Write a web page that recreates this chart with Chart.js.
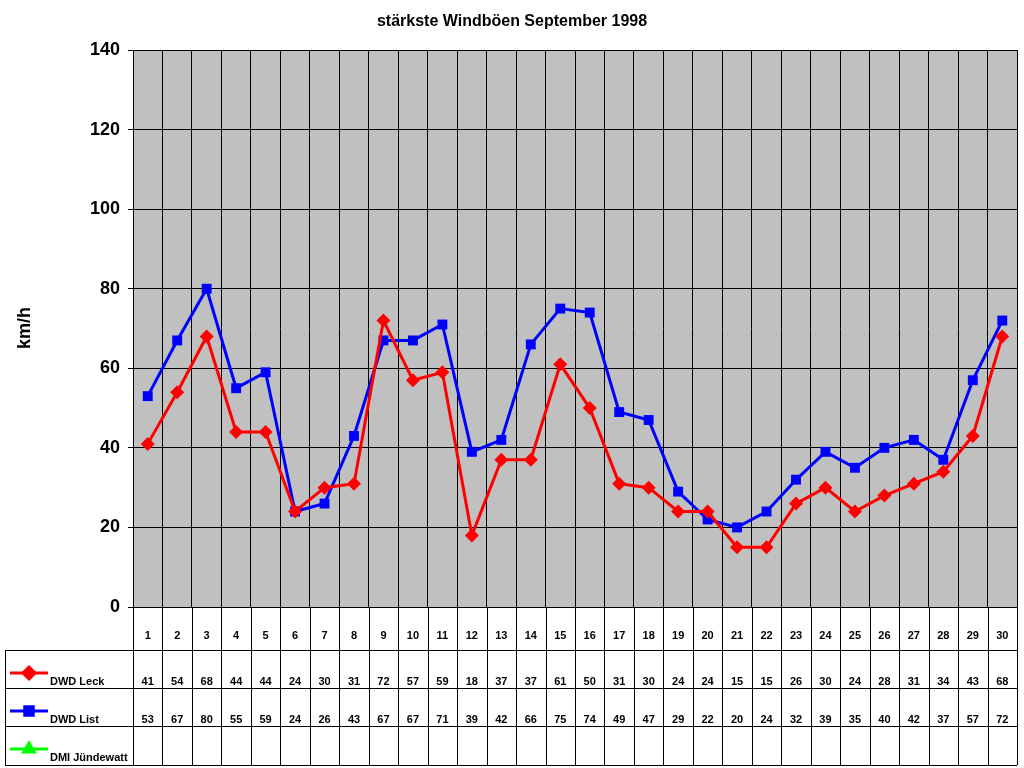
<!DOCTYPE html>
<html>
<head>
<meta charset="utf-8">
<script src="https://cdn.jsdelivr.net/npm/chart.js@4"></script>
<style>
  html, body { margin: 0; padding: 0; background: #fff; }
  #wrap { width: 1024px; height: 768px; }
</style>
</head>
<body>
<div id="wrap"><canvas id="myChart" width="1024" height="768"></canvas></div>
<script>
var days = [];
for (var d = 1; d <= 30; d++) days.push(String(d));
var leck = [41, 54, 68, 44, 44, 24, 30, 31, 72, 57, 59, 18, 37, 37, 61, 50, 31, 30, 24, 24, 15, 15, 26, 30, 24, 28, 31, 34, 43, 68];
var list = [53, 67, 80, 55, 59, 24, 26, 43, 67, 67, 71, 39, 42, 66, 75, 74, 49, 47, 29, 22, 20, 24, 32, 39, 35, 40, 42, 37, 57, 72];
var juendewatt = [];
var seriesNames = ["DWD Leck", "DWD List", "DMI Jündewatt"];
var seriesColors = ["#ff0000", "#0000ff", "#00ff00"];
var seriesMarkers = ["rectRot", "rect", "triangle"];

var tablePlugin = {
  id: "tablePlugin",
  afterDraw: function (chart) {
    var ctx = chart.ctx;
    var area = chart.chartArea;
    var x = chart.scales.x;
    var rows = [607, 650, 688, 726, 765];
    var step = (area.right - area.left) / days.length;
    ctx.save();
    ctx.strokeStyle = "#000";
    ctx.lineWidth = 1;
    ctx.beginPath();
    for (var i = 0; i <= days.length; i++) {
      var px = Math.round(area.left + i * step) + 0.5;
      ctx.moveTo(px, rows[0]);
      ctx.lineTo(px, rows[4]);
    }
    ctx.moveTo(5.5, rows[1]);
    ctx.lineTo(5.5, rows[4]);
    for (var r = 1; r < rows.length; r++) {
      ctx.moveTo(5, rows[r] + 0.5);
      ctx.lineTo(area.right, rows[r] + 0.5);
    }
    ctx.stroke();

    ctx.fillStyle = "#000";
    ctx.font = "bold 11px Arial, 'Liberation Sans', sans-serif";
    ctx.textAlign = "center";
    ctx.textBaseline = "alphabetic";
    var data = [leck, list, juendewatt];
    for (var j = 0; j < days.length; j++) {
      var cx = x.getPixelForValue(j);
      ctx.fillText(days[j], cx, 639);
      for (var s = 0; s < data.length; s++) {
        if (data[s][j] !== undefined) ctx.fillText(String(data[s][j]), cx, rows[s + 1] + 35);
      }
    }
    // legend keys
    ctx.textAlign = "left";
    for (var k = 0; k < seriesNames.length; k++) {
      var ly = rows[k + 1] + 23;
      ctx.strokeStyle = seriesColors[k];
      ctx.lineWidth = 3;
      ctx.beginPath();
      ctx.moveTo(10, ly);
      ctx.lineTo(48, ly);
      ctx.stroke();
      Chart.helpers.drawPoint(ctx, { pointStyle: seriesMarkers[k], radius: 6, borderWidth: 1 }, 29, ly);
      ctx.fillStyle = seriesColors[k];
      Chart.helpers.drawPoint(ctx, { pointStyle: seriesMarkers[k], radius: 6, borderWidth: 0 }, 29, ly);
      ctx.fill();
      ctx.fillStyle = "#000";
      ctx.fillText(seriesNames[k], 50, rows[k + 1] + 35);
    }
    // title and axis title
    ctx.textAlign = "center";
    ctx.font = "bold 16px Arial, 'Liberation Sans', sans-serif";
    ctx.fillText("stärkste Windböen September 1998", 512, 26);
    ctx.translate(30, 328);
    ctx.rotate(-Math.PI / 2);
    ctx.font = "bold 18px Arial, 'Liberation Sans', sans-serif";
    ctx.fillText("km/h", 0, 0);
    ctx.restore();
  }
};

var bgPlugin = {
  id: "bgPlugin",
  beforeDraw: function (chart) {
    var ctx = chart.ctx, a = chart.chartArea;
    ctx.save();
    ctx.fillStyle = "#fff";
    ctx.fillRect(0, 0, chart.width, chart.height);
    ctx.fillStyle = "#c0c0c0";
    ctx.fillRect(a.left, a.top, a.right - a.left, a.bottom - a.top);
    ctx.restore();
  }
};

new Chart(document.getElementById("myChart"), {
  type: "line",
  data: {
    labels: days,
    datasets: [
      { label: seriesNames[0], data: leck, borderColor: seriesColors[0], backgroundColor: seriesColors[0], borderWidth: 3, pointStyle: "rectRot", pointRadius: 7, pointBorderWidth: 0 },
      { label: seriesNames[1], data: list, borderColor: seriesColors[1], backgroundColor: seriesColors[1], borderWidth: 3, pointStyle: "rect", pointRadius: 7, pointBorderWidth: 0 },
      { label: seriesNames[2], data: juendewatt, borderColor: seriesColors[2], backgroundColor: seriesColors[2], borderWidth: 3, pointStyle: "triangle", pointRadius: 6 }
    ]
  },
  options: {
    responsive: false,
    animation: false,
    layout: { padding: { left: 0, right: 5, top: 50, bottom: 161 } },
    plugins: { legend: { display: false }, title: { display: false }, tooltip: { enabled: false } },
    scales: {
      x: {
        offset: true,
        grid: { offset: true, color: "#000", drawTicks: false },
        border: { color: "#000" },
        ticks: { display: false },
        afterFit: function (s) { s.height = 0; }
      },
      y: {
        min: 0, max: 140,
        ticks: { stepSize: 20, color: "#000", font: { family: "Arial, 'Liberation Sans', sans-serif", size: 18, weight: "bold" }, padding: 8 },
        grid: { color: "#000", drawTicks: true, tickLength: 5 },
        border: { color: "#000" },
        afterFit: function (s) { s.width = 133; }
      }
    }
  },
  plugins: [bgPlugin, tablePlugin]
});
</script>
</body>
</html>
